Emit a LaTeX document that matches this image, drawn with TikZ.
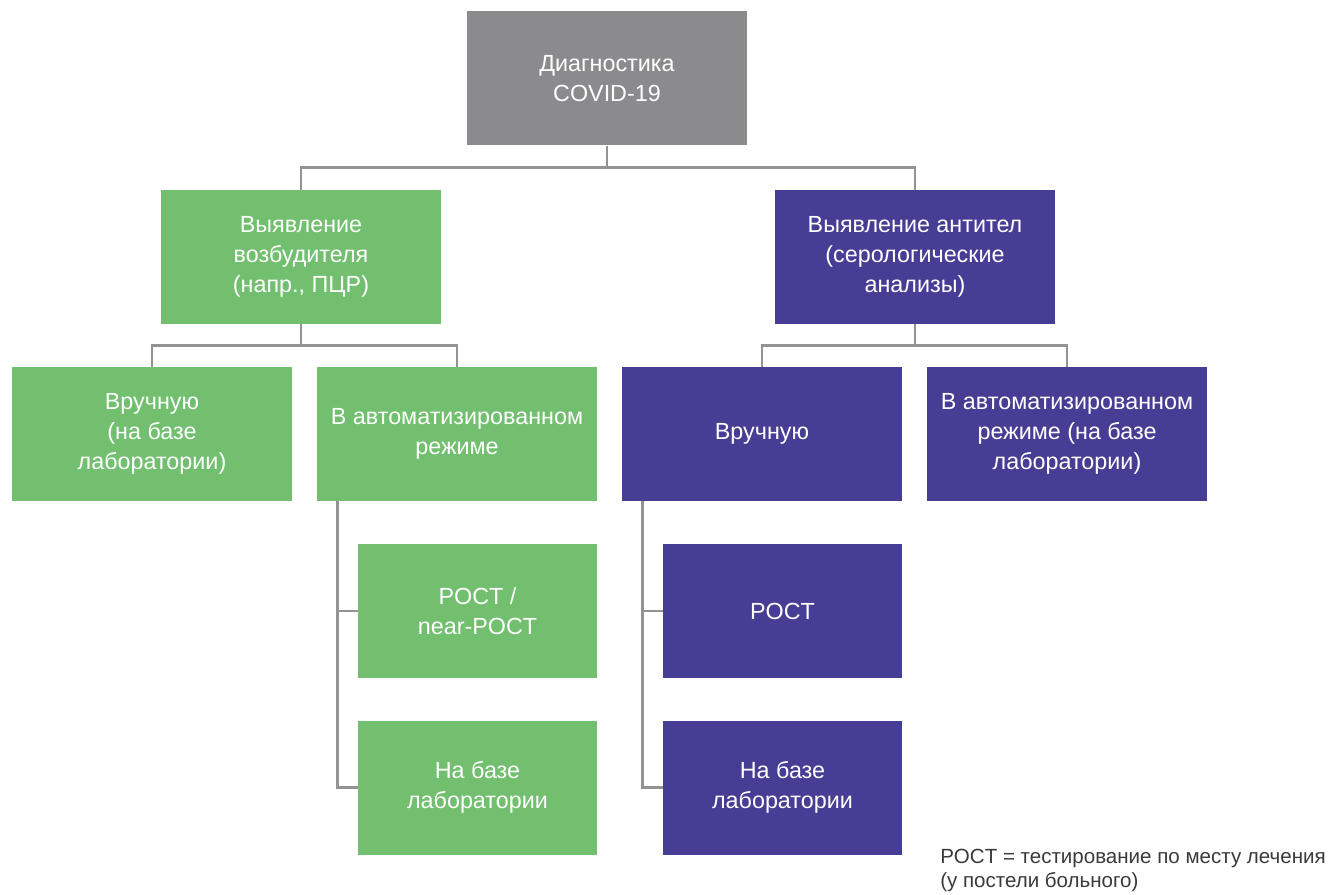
\documentclass[tikz,border=0pt]{standalone}
\usepackage{fontspec}
\setmainfont{Liberation Sans}
\usepackage{xcolor}
\definecolor{boxgrey}{HTML}{8B8B8D}
\definecolor{boxgreen}{HTML}{72C06F}
\definecolor{boxpurple}{HTML}{453E94}
\definecolor{linegrey}{HTML}{939393}
\definecolor{notegrey}{HTML}{3A3A3A}

\begin{document}
\begin{tikzpicture}[x=0.75pt,y=-0.75pt,
  box/.style={rectangle,inner sep=0pt,minimum width=210pt,minimum height=100.5pt,
    align=center,text=white,font=\fontsize{17.5}{22.5}\selectfont},
  small/.style={box,minimum width=179.25pt},
  conn/.style={draw=linegrey,line width=2pt}]
\useasboundingbox (0,0) rectangle (1328,895);
% top
\node[box,fill=boxgrey] (diag) at (607,78.5) {Диагностика\\COVID-19};
% second level
\node[box,fill=boxgreen] (pathogen) at (301,257) {Выявление\\возбудителя\\(напр., ПЦР)};
\node[box,fill=boxpurple] (antibody) at (915,257) {Выявление антител\\(серологические\\анализы)};
% third level
\node[box,fill=boxgreen] (manualg) at (152,434) {Вручную\\(на базе\\лаборатории)};
\node[box,fill=boxgreen] (autog) at (457,434) {В автоматизированном\\режиме};
\node[box,fill=boxpurple] (manualp) at (762,434) {Вручную};
\node[box,fill=boxpurple] (autop) at (1067,434) {В автоматизированном\\режиме (на базе\\лаборатории)};
% fourth level
\node[small,fill=boxgreen] (pocg) at (477.5,611) {POCT /\\near-POCT};
\node[small,fill=boxgreen] (labg) at (477.5,787.5) {На базе\\лаборатории};
\node[small,fill=boxpurple] (pocp) at (782.5,611) {POCT};
\node[small,fill=boxpurple] (labp) at (782.5,787.5) {На базе\\лаборатории};
% connectors
\draw[conn] (diag.south) -- ++(0,22) -| (pathogen.north);
\draw[conn] (diag.south) -- ++(0,22) -| (antibody.north);
\draw[conn] (pathogen.south) -- ++(0,21) -| (manualg.north);
\draw[conn] (pathogen.south) -- ++(0,21) -| (autog.north);
\draw[conn] (antibody.south) -- ++(0,21) -| (manualp.north);
\draw[conn] (antibody.south) -- ++(0,21) -| (autop.north);
\draw[conn] (autog.south west) ++(21,0) |- (pocg.west);
\draw[conn] (autog.south west) ++(21,0) |- (labg.west);
\draw[conn] (manualp.south west) ++(21,0) |- (pocp.west);
\draw[conn] (manualp.south west) ++(21,0) |- (labp.west);
% note
\node[anchor=north west,inner sep=0pt,align=left,text=notegrey,
  font=\fontsize{15.4}{18}\selectfont] (pocnote) at (940,849)
  {POCT = тестирование по месту лечения\\(у постели больного)};
\end{tikzpicture}
\end{document}
